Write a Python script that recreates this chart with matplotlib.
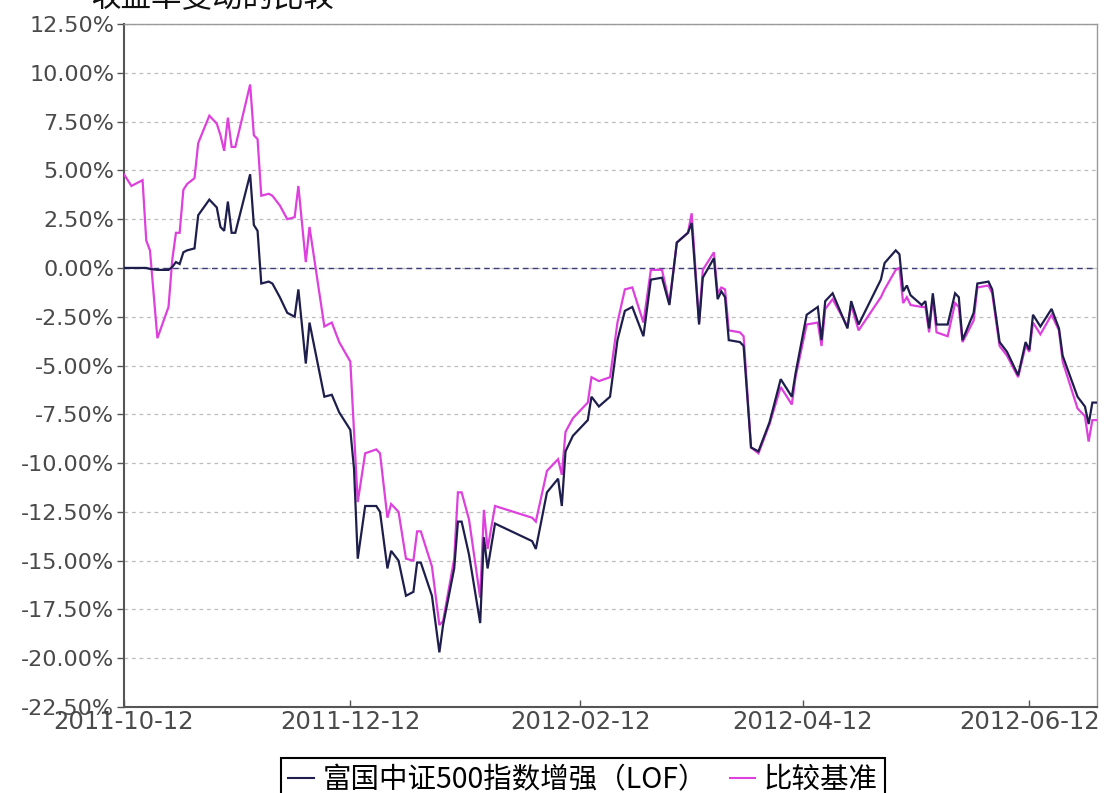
import matplotlib
matplotlib.use("Agg")
import matplotlib.pyplot as plt
from matplotlib.ticker import FuncFormatter
import pandas as pd

# ---------------- data ----------------
dates = [
    "2011-10-12", "2011-10-14", "2011-10-17", "2011-10-18", "2011-10-19", "2011-10-21",
    "2011-10-24", "2011-10-25", "2011-10-26", "2011-10-27", "2011-10-28", "2011-10-29",
    "2011-10-31", "2011-11-01", "2011-11-04", "2011-11-06", "2011-11-07", "2011-11-08",
    "2011-11-09", "2011-11-10", "2011-11-11", "2011-11-15", "2011-11-16", "2011-11-17",
    "2011-11-18", "2011-11-20", "2011-11-21", "2011-11-23", "2011-11-25", "2011-11-27",
    "2011-11-28", "2011-11-30", "2011-12-01", "2011-12-05", "2011-12-07", "2011-12-09",
    "2011-12-12", "2011-12-13", "2011-12-14", "2011-12-16", "2011-12-19", "2011-12-20",
    "2011-12-22", "2011-12-23", "2011-12-25", "2011-12-27", "2011-12-29", "2011-12-30",
    "2011-12-31", "2012-01-03", "2012-01-05", "2012-01-06", "2012-01-09", "2012-01-10",
    "2012-01-11", "2012-01-13", "2012-01-16", "2012-01-17", "2012-01-18", "2012-01-20",
    "2012-01-30", "2012-01-31", "2012-02-03", "2012-02-06", "2012-02-07", "2012-02-08",
    "2012-02-10", "2012-02-14", "2012-02-15", "2012-02-17", "2012-02-20", "2012-02-22",
    "2012-02-24", "2012-02-26", "2012-02-29", "2012-03-02", "2012-03-05", "2012-03-07",
    "2012-03-09", "2012-03-12", "2012-03-13", "2012-03-15", "2012-03-16", "2012-03-19",
    "2012-03-20", "2012-03-21", "2012-03-22", "2012-03-23", "2012-03-26", "2012-03-27",
    "2012-03-29", "2012-03-31", "2012-04-03", "2012-04-06", "2012-04-09", "2012-04-10",
    "2012-04-13", "2012-04-16", "2012-04-17", "2012-04-18", "2012-04-20", "2012-04-24",
    "2012-04-25", "2012-04-27", "2012-05-03", "2012-05-04", "2012-05-07", "2012-05-08",
    "2012-05-09", "2012-05-10", "2012-05-11", "2012-05-14", "2012-05-15", "2012-05-16",
    "2012-05-17", "2012-05-18", "2012-05-21", "2012-05-23", "2012-05-24", "2012-05-25",
    "2012-05-28", "2012-05-29", "2012-06-01", "2012-06-02", "2012-06-04", "2012-06-06",
    "2012-06-09", "2012-06-11", "2012-06-12", "2012-06-13", "2012-06-15", "2012-06-18",
    "2012-06-20", "2012-06-21", "2012-06-25", "2012-06-27", "2012-06-28", "2012-06-29",
    "2012-06-30",
]

fund_return = [
    0.0, 0.0, 0.0, 0.0, -0.05, -0.1,
    -0.1, 0.05, 0.3, 0.2, 0.8, 0.9,
    1.0, 2.7, 3.5, 3.1, 2.1, 1.9,
    3.4, 1.8, 1.8, 4.8, 2.2, 1.9,
    -0.8, -0.7, -0.8, -1.5, -2.3, -2.5,
    -1.1, -4.9, -2.8, -6.6, -6.5, -7.4,
    -8.3, -10.3, -14.9, -12.2, -12.2, -12.5,
    -15.4, -14.5, -15.0, -16.8, -16.6, -15.1,
    -15.1, -16.8, -19.7, -18.3, -15.4, -13.0,
    -13.0, -14.7, -18.2, -13.8, -15.4, -13.1,
    -14.0, -14.4, -11.5, -10.8, -12.2, -9.4,
    -8.6, -7.8, -6.6, -7.1, -6.6, -3.7,
    -2.2, -2.0, -3.5, -0.6, -0.5, -1.9,
    1.3, 1.8, 2.3, -2.9, -0.5, 0.5,
    -1.6, -1.2, -1.5, -3.7, -3.8, -4.0,
    -9.2, -9.4, -7.9, -5.7, -6.6, -5.4,
    -2.4, -2.0, -3.7, -1.7, -1.3, -3.1,
    -1.7, -2.9, -0.6, 0.25, 0.9, 0.7,
    -1.2, -0.9, -1.4, -1.9, -1.7, -3.1,
    -1.3, -2.9, -2.9, -1.3, -1.5, -3.7,
    -2.3, -0.8, -0.7, -1.1, -3.8, -4.3,
    -5.5, -3.8, -4.2, -2.4, -3.0, -2.1,
    -3.1, -4.5, -6.6, -7.1, -8.0, -6.9,
    -6.9,
]

benchmark_return = [
    4.8, 4.2, 4.5, 1.4, 0.9, -3.6,
    -2.0, 0.4, 1.8, 1.8, 4.0, 4.3,
    4.6, 6.4, 7.8, 7.4, 6.8, 6.0,
    7.7, 6.2, 6.2, 9.4, 6.8, 6.6,
    3.7, 3.8, 3.7, 3.2, 2.5, 2.6,
    4.2, 0.3, 2.1, -3.0, -2.8, -3.8,
    -4.8, -8.4, -12.0, -9.5, -9.3, -9.5,
    -12.8, -12.1, -12.5, -14.9, -15.0, -13.5,
    -13.5, -15.3, -18.3, -18.1, -14.9, -11.5,
    -11.5, -12.9, -16.9, -12.4, -14.4, -12.2,
    -12.8, -13.0, -10.4, -9.8, -10.6, -8.4,
    -7.7, -6.9, -5.6, -5.8, -5.6, -2.8,
    -1.1, -1.0, -2.8, -0.1, -0.1, -1.8,
    1.3, 1.8, 2.8, -2.8, -0.1, 0.8,
    -1.3, -1.0, -1.1, -3.2, -3.3, -3.5,
    -9.2, -9.5, -8.0, -6.1, -7.0, -5.6,
    -2.9, -2.8, -4.0, -2.1, -1.6, -3.0,
    -1.9, -3.2, -1.5, -1.1, -0.1, 0.0,
    -1.8, -1.5, -1.9, -2.0, -2.0, -3.3,
    -1.5, -3.3, -3.5, -1.8, -2.0, -3.8,
    -2.7, -1.0, -0.9, -1.3, -4.0, -4.5,
    -5.6, -4.0, -4.3, -2.8, -3.4, -2.4,
    -3.2, -4.8, -7.2, -7.6, -8.9, -7.8,
    -7.8,
]

series_names = ["富国中证500指数增强（LOF）", "比较基准"]
x_tick_labels = ["2011-10-12", "2011-12-12", "2012-02-12", "2012-04-12", "2012-06-12"]
y_ticks = [-22.5, -20.0, -17.5, -15.0, -12.5, -10.0, -7.5, -5.0, -2.5, 0.0, 2.5, 5.0, 7.5, 10.0, 12.5]
title_text = "收益率变动的比较"

# ---------------- figure ----------------
W, H = 1105, 793
fig = plt.figure(figsize=(W / 100, H / 100), dpi=100)
fig.patch.set_facecolor("white")
ax = fig.add_axes([124 / W, 1 - 707 / H, (1097 - 124) / W, (707 - 24) / H])

x = pd.to_datetime(dates)
fund_color = "#1e1e4c"
bench_color = "#dd40dd"

ax.plot(x, benchmark_return, color=bench_color, lw=1.6, zorder=3, solid_joinstyle="miter")
ax.plot(x, fund_return, color=fund_color, lw=1.6, zorder=4, solid_joinstyle="miter")

# axes limits & ticks
ax.set_ylim(y_ticks[0], y_ticks[-1])
ax.set_xlim(pd.Timestamp(x_tick_labels[0]), pd.Timestamp("2012-06-30 06:00"))
ax.set_yticks(y_ticks)
ax.yaxis.set_major_formatter(FuncFormatter(lambda v, p: f"{v:.2f}%"))
ax.set_xticks(pd.to_datetime(x_tick_labels))
ax.set_xticklabels(x_tick_labels)

tick_color = "#4a4a4a"
ax.tick_params(axis="y", direction="out", length=5, width=1, colors="#555555",
               labelsize=16, labelcolor=tick_color, pad=2)
ax.tick_params(axis="x", direction="in", length=5, width=1, colors="#555555",
               labelsize=17.5, labelcolor=tick_color, pad=2)

# grid
ax.yaxis.grid(True, color="#bdbdbd", linestyle=(0, (3, 3)), linewidth=0.9)
ax.xaxis.grid(False)
ax.axhline(0, color="#3c3c78", linestyle=(0, (4, 3)), linewidth=1.0, zorder=2)

for side in ["left", "bottom"]:
    ax.spines[side].set_color("#555555")
    ax.spines[side].set_linewidth(1.5)
for side in ["top", "right"]:
    ax.spines[side].set_color("#9a9a9a")
    ax.spines[side].set_linewidth(1.0)

# title (partially cut at top, as in the reference)
fig.text(90 / W, 1 - 7 / H, title_text, fontsize=22, ha="left", va="baseline",
         family=["Noto Sans CJK SC", "DejaVu Sans"], color="#111111")

# legend
h1 = plt.Line2D([], [], color=fund_color, lw=1.5)
h2 = plt.Line2D([], [], color=bench_color, lw=1.5)
leg = fig.legend([h1, h2], series_names, loc="upper center",
                 bbox_to_anchor=(583 / W, 1 - 758 / H), ncol=2, frameon=True,
                 fancybox=False, edgecolor="black", framealpha=1,
                 prop={"family": ["Noto Sans CJK SC", "DejaVu Sans"], "size": 20.5},
                 handlelength=0.9, handletextpad=0.3, columnspacing=0.8,
                 borderpad=0.25, borderaxespad=0)
leg.get_frame().set_linewidth(1.5)

fig.savefig("out.png", dpi=100)
